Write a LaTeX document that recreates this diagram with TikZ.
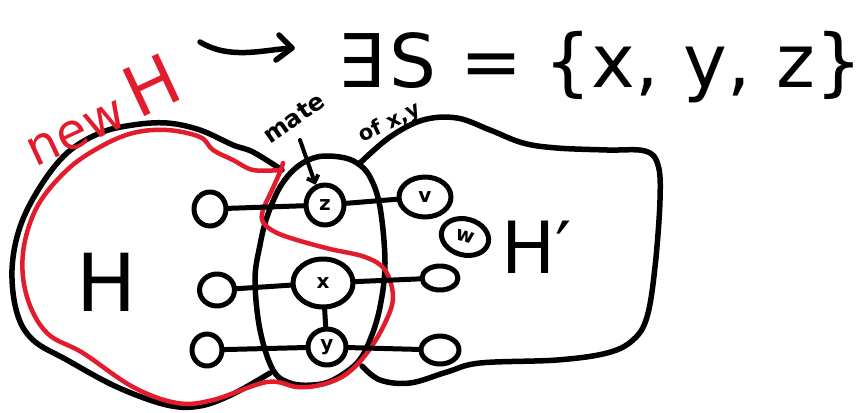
\documentclass[tikz,border=0pt]{standalone}
\usepackage{fontspec}
\setmainfont{DejaVu Sans}
\usetikzlibrary{arrows.meta,shapes.geometric}
\definecolor{newred}{RGB}{226,28,44}
\begin{document}
\begin{tikzpicture}[x=1pt,y=-1pt,line cap=round,line join=round,
  ink/.style={line width=5.5pt,draw=black},
  redink/.style={line width=4.5pt,draw=newred},
  vtx/.style={draw,line width=5pt,ellipse,inner sep=0pt,font=\fontsize{20}{20}\selectfont\bfseries},
  edge/.style={line width=5pt},
  hand/.style={font=\fontsize{#1}{#1}\selectfont},
  handb/.style={font=\fontsize{#1}{#1}\selectfont\bfseries}]
\useasboundingbox (0,0) rectangle (864,412);
% blobs
\draw[ink] plot[smooth,tension=0.6] coordinates {(282,170) (253,152) (233,145) (200,130) (167,123) (133,125) (100,133) (67,153) (40,187) (20,227) (12,270) (17,313) (33,340) (67,360) (117,387) (167,405) (200,406) (233,394) (270,373)};
\draw[ink] plot[smooth cycle,tension=0.6] coordinates {(297,167) (317,157) (340,157) (357,163) (370,177) (380,207) (385,263) (380,307) (370,340) (357,363) (333,380) (313,385) (290,383) (273,370) (260,330) (255,280) (260,245) (267,217) (280,187)};
\draw[ink] plot[smooth,tension=0.6] coordinates {(360,163) (390,137) (423,120) (457,118) (490,130) (523,143) (557,148) (607,150) (645,151) (658,165) (660,200) (655,267) (647,317) (633,340) (607,353) (557,360) (480,363) (447,372) (410,383) (380,380) (362,366)};
% new H
\draw[redink] plot[smooth,tension=0.6] coordinates {(283,163) (280,172) (272,190) (263,210) (263,222) (275,232) (297,240) (330,249) (365,257) (385,270) (393,297) (385,323) (367,353) (345,375) (320,385) (297,387) (267,382) (213,400) (177,403) (133,387) (83,353) (47,333) (27,297) (23,253) (37,207) (67,170) (100,147) (133,133) (167,130) (200,137) (213,150) (233,160) (253,170) (280,170)};
% vertices
\node[vtx,minimum width=32,minimum height=34] (l1) at (210,209) {};
\node[vtx,minimum width=35,minimum height=32] (l2) at (217,290) {};
\node[vtx,minimum width=30,minimum height=32] (l3) at (207,350) {};
\node[vtx,minimum width=38,minimum height=40] (z) at (325,205) {z};
\node[vtx,minimum width=52,minimum height=40] (v) at (425,197) {v};
\node[vtx,minimum width=48,minimum height=36,rotate=-15] (w) at (465,237) {w};
\node[vtx,minimum width=60,minimum height=48] (x) at (323,283) {x};
\node[vtx,minimum width=38,minimum height=36] (y) at (327,347) {y};
\node[vtx,minimum width=36,minimum height=24] (r1) at (440,278) {};
\node[vtx,minimum width=38,minimum height=28] (r2) at (440,350) {};
% edges
\draw[edge] (l1) -- (z);
\draw[edge] (z) -- (v);
\draw[edge] (l2) -- (x);
\draw[edge] (x) -- (r1);
\draw[edge] (x) -- (y);
\draw[edge] (l3) -- (y);
\draw[edge] (y) -- (r2);
% labels
\node[hand=80] (H) at (107,282) {H};
\node[hand=72] (Hp) at (537,247) {H′};
\node[hand=74,anchor=base west,inner sep=0pt] (S) at (337,88) {∃\hspace{6pt}S\hspace{24pt}=\hspace{22pt}\{x,\hspace{24pt}y,\hspace{26pt}z\}};
\node[hand=50,text=newred,rotate=25] (newH) at (100,110) {new\hspace{10pt}\fontsize{70}{70}\selectfont H};
\node[handb=24,rotate=35] (mate) at (294,118) {mate};
\node[handb=21,rotate=25] (ofxy) at (390,123) {of x,y};
% arrows
\coordinate (a0) at (200,42);
\coordinate (a1) at (292,48);
\draw[ink] (a0) .. controls (230,60) and (262,50) .. (a1);
\draw[ink] (279,35) -- (a1) -- (276,60);
\coordinate (m0) at (300,140);
\draw[line width=4pt,-{Straight Barb[length=6pt,width=12pt]}] (m0) -- (z.115);
\end{tikzpicture}
\end{document}
